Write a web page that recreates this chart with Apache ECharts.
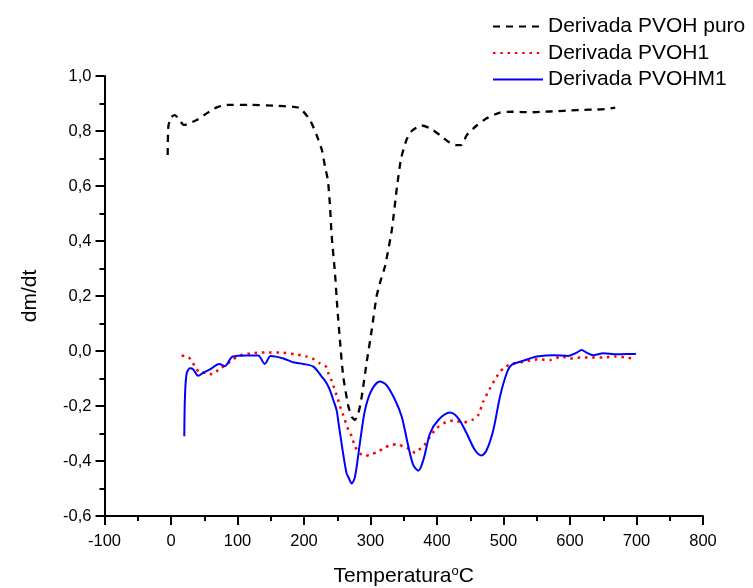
<!DOCTYPE html>
<html>
<head>
<meta charset="utf-8">
<script src="https://cdn.jsdelivr.net/npm/echarts@6/dist/echarts.min.js"></script>
<style>
  html, body { margin: 0; padding: 0; background: #fff; }
  #chart { width: 753px; height: 588px; }
</style>
</head>
<body>
<div id="chart"></div>
<script>
// Derivative thermogravimetric curves (dm/dt vs temperature)
const seriesNames = ['Derivada PVOH puro', 'Derivada PVOH1', 'Derivada PVOHM1'];

const tempPuro = [-5, -4, 0, 6, 12.5, 19.5, 38.6, 53.6, 68.7, 83.7, 119, 154, 184, 194, 209, 219, 227, 231.6, 236, 239, 241.6, 246.6, 250, 254, 259, 266.6, 271.7, 276.7, 281.7, 286.8, 294, 301.8, 309, 314, 322, 332, 340, 346, 354, 362, 377, 389.5, 404.5, 417, 429.6, 437, 444.7, 459.7, 474.7, 494.7, 514.7, 540, 560, 580, 600, 620, 640, 655, 668];
const dmPuro = [0.713, 0.816, 0.85, 0.858, 0.84, 0.822, 0.84, 0.864, 0.886, 0.895, 0.895, 0.892, 0.888, 0.883, 0.84, 0.785, 0.73, 0.67, 0.62, 0.53, 0.42, 0.283, 0.161, 0.04, -0.093, -0.2, -0.239, -0.25, -0.227, -0.166, -0.045, 0.076, 0.197, 0.246, 0.31, 0.44, 0.60, 0.70, 0.767, 0.80, 0.82, 0.81, 0.785, 0.761, 0.749, 0.749, 0.785, 0.82, 0.846, 0.867, 0.87, 0.868, 0.87, 0.872, 0.875, 0.877, 0.878, 0.88, 0.885];

const tempPVOH1 = [16, 21, 29.6, 36, 43.6, 52.6, 62, 71, 91, 99.7, 108.8, 118.8, 141, 166.5, 186.5, 204, 215, 224, 232.6, 236.6, 241.6, 250.6, 254, 259, 266.6, 271.7, 276.7, 284, 291.7, 301.8, 311.7, 321.8, 331.9, 341.8, 349, 359.4, 367, 372, 379.5, 389.5, 399.5, 409.5, 424.5, 439.7, 454.6, 462, 469.6, 479.7, 489.8, 499.7, 512, 532, 552, 570, 587.5, 600, 615, 632.6, 650, 667.7, 685, 693];
const dmPVOH1 = [-0.017, -0.017, -0.03, -0.057, -0.079, -0.079, -0.085, -0.069, -0.035, -0.02, -0.013, -0.009, -0.005, -0.006, -0.012, -0.02, -0.03, -0.045, -0.055, -0.081, -0.109, -0.172, -0.2, -0.233, -0.287, -0.31, -0.348, -0.372, -0.382, -0.375, -0.366, -0.35, -0.342, -0.338, -0.348, -0.357, -0.37, -0.36, -0.348, -0.31, -0.281, -0.263, -0.253, -0.26, -0.249, -0.233, -0.184, -0.136, -0.093, -0.063, -0.047, -0.039, -0.03, -0.033, -0.02, -0.027, -0.024, -0.024, -0.024, -0.02, -0.024, -0.027];

const tempPVOHM1 = [20, 21, 23.6, 28.6, 33.5, 41, 48.6, 58.6, 72.6, 81, 92.8, 113.8, 131, 141, 150, 169, 184, 199, 214, 226.6, 234, 239, 244, 249, 252, 258, 264, 267, 271.7, 276.7, 284, 291.7, 301.8, 314, 324, 337, 347, 357, 364.4, 372, 379.5, 389.5, 402, 419.5, 432, 444.7, 457, 467, 474.7, 484.7, 494.7, 504.8, 512, 525, 540, 550, 575, 597.5, 610, 617.6, 625, 635, 650, 670, 685, 699];
const dmPVOHM1 = [-0.31, -0.166, -0.081, -0.063, -0.067, -0.09, -0.079, -0.067, -0.047, -0.055, -0.02, -0.016, -0.016, -0.047, -0.018, -0.027, -0.041, -0.047, -0.057, -0.093, -0.117, -0.142, -0.178, -0.215, -0.263, -0.36, -0.445, -0.46, -0.482, -0.457, -0.336, -0.215, -0.142, -0.111, -0.124, -0.178, -0.239, -0.348, -0.415, -0.435, -0.396, -0.3, -0.251, -0.224, -0.245, -0.3, -0.36, -0.38, -0.36, -0.287, -0.166, -0.081, -0.051, -0.039, -0.027, -0.02, -0.015, -0.018, -0.006, 0.004, -0.006, -0.015, -0.008, -0.012, -0.011, -0.011];

const xTicks = { min: -100, max: 800, step: 100 };
const yTicks = { min: -0.6, max: 1.0, step: 0.2 };

const zip = (xs, ys) => xs.map((x, i) => [x, ys[i]]);
const FONT = 'Liberation Sans, Arial, sans-serif';

const chart = echarts.init(document.getElementById('chart'));

const axisCommon = {
  axisLine: { show: true, onZero: false, lineStyle: { color: '#000', width: 2 } },
  axisTick: { show: true, inside: false, length: 9, lineStyle: { color: '#000', width: 2 } },
  minorTick: { show: true, splitNumber: 2, length: 5, lineStyle: { color: '#000', width: 2 } },
  splitLine: { show: false },
  minorSplitLine: { show: false }
};

chart.setOption({
  animation: false,
  backgroundColor: '#fff',
  grid: { left: 104.5, right: 50, top: 76, bottom: 72, containLabel: false, outerBoundsMode: 'none' },
  legend: {
    orient: 'vertical',
    left: 487,
    top: 11,
    itemWidth: 50,
    itemHeight: 14,
    itemGap: 5.5,
    itemStyle: { opacity: 0, borderWidth: 0 },
    textStyle: { fontFamily: FONT, fontSize: 21, color: '#000' },
    data: seriesNames
  },
  xAxis: Object.assign({
    type: 'value',
    min: xTicks.min, max: xTicks.max, interval: xTicks.step,
    name: 'Temperatura{sup|o}C',
    nameLocation: 'middle',
    nameGap: 49,
    nameTextStyle: {
      fontFamily: FONT, fontSize: 21, color: '#000',
      rich: { sup: { fontFamily: FONT, fontSize: 13, color: '#000', padding: [0, 0, 10, 0] } }
    },
    axisLabel: { fontFamily: FONT, fontSize: 16.5, color: '#000', margin: 17 }
  }, axisCommon),
  yAxis: Object.assign({
    type: 'value',
    min: yTicks.min, max: yTicks.max, interval: yTicks.step,
    name: 'dm/dt',
    nameLocation: 'middle',
    nameGap: 64,
    nameRotate: 90,
    nameTextStyle: { fontFamily: FONT, fontSize: 21, color: '#000' },
    axisLabel: {
      fontFamily: FONT, fontSize: 16.5, color: '#000', margin: 13,
      formatter: v => (Math.abs(v) < 1e-9 ? 0 : v).toFixed(1).replace('.', ',')
    }
  }, axisCommon),
  series: [
    {
      name: seriesNames[0], type: 'line', symbol: 'none',
      data: zip(tempPuro, dmPuro),
      lineStyle: { color: '#000', width: 2.3, type: [7, 6] },
      itemStyle: { color: '#000' },
      smooth: 0.2
    },
    {
      name: seriesNames[1], type: 'line', symbol: 'none',
      data: zip(tempPVOH1, dmPVOH1),
      lineStyle: { color: '#ff0000', width: 2.5, type: [2.5, 4.8] },
      itemStyle: { color: '#ff0000' },
      smooth: 0.2
    },
    {
      name: seriesNames[2], type: 'line', symbol: 'none',
      data: zip(tempPVOHM1, dmPVOHM1),
      lineStyle: { color: '#0000ff', width: 2 },
      itemStyle: { color: '#0000ff' },
      smooth: 0.3
    }
  ]
});
</script>
</body>
</html>
